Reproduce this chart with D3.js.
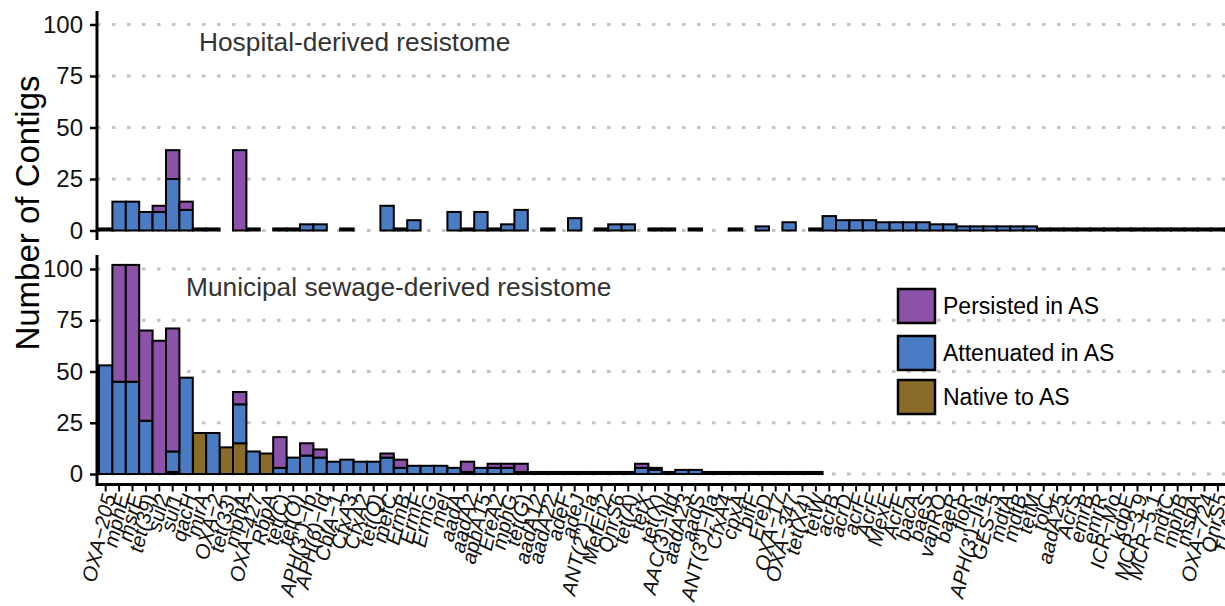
<!DOCTYPE html>
<html><head><meta charset="utf-8">
<script src="https://cdn.jsdelivr.net/npm/d3@7"></script>
<style>body{margin:0;background:#fff} svg{display:block}</style>
</head><body>
<svg id="c" width="1225" height="606"></svg>
<script>
const categories = [
"OXA−205","mphE","msrE","tet(39)","sul2","sul1","qacH","mirA","OXA−2","tet(33)",
"mphA","OXA−427","RbpA","tet(C)","tet(O)","APH(3'')−Ib","APH(6)−Id","CblA−1","CfxA3","CfxA2",
"tet(Q)","mefC","ErmB","ErmF","ErmG","mel","aadA","aadA2","aphA15","EreA2",
"mphG","tet(G)","aadA12","aadA22","adeF","adeJ","ANT(2'')−Ia","MefEn2","QnrS6","tet(A)",
"tetX","tet(X)","AAC(3)−IId","aadA23","aadS","ANT(3'')−IIa","CfxA4","cpxA","bifF","EreD",
"OXA−17","OXA−347","tet(X4)","tetW","acrB","acrD","acrF","AcrF","MexE","AcrE",
"bacA","baeS","vanRO","baeR","floR","APH(3')−IIa","GES−5","mdtA","mdtB","tetM",
"tolC","aadA25","AcrS","emrB","emrR","ICR−Mo","kdpE","MCR−3.9","MCR−5.1","mdtC",
"mphB","msbA","OXA−724","QnrS5","TLA−1"];

const hospitalNative = new Array(85).fill(0);
const hospitalAttenuated = [
1,14,14,9,9,25,10,1,1,0,
0,1,0,1,1,3,3,0,1,0,
0,12,1,5,0,0,9,1,9,1,
3,10,0,1,0,6,0,1,3,3,
0,1,1,0,1,0,0,1,0,2,
0,4,0,1,7,5,5,5,4,4,
4,4,3,3,2,2,2,2,2,2,
1,1,1,1,1,1,1,1,1,1,
1,1,1,1,1];
const hospitalPersisted = [
0,0,0,0,3,14,4,0,0,0,
39,0,0,0,0,0,0,0,0,0,
0,0,0,0,0,0,0,0,0,0,
0,0,0,0,0,0,0,0,0,0,
0,0,0,0,0,0,0,0,0,0,
0,0,0,0,0,0,0,0,0,0,
0,0,0,0,0,0,0,0,0,0,
0,0,0,0,0,0,0,0,0,0,
0,0,0,0,0];

const municipalNative = [
0,0,0,0,0,1,0,20,0,13,
15,0,10,0,0,0,0,0,0,0,
0,0,0,0,0,0,0,0,0,0,
0,0,0,0,0,0,0,0,0,0,
0,0,0,0,0,0,0,0,0,0,
0,0,0,0,0,0,0,0,0,0,
0,0,0,0,0,0,0,0,0,0,
0,0,0,0,0,0,0,0,0,0,
0,0,0,0,0];
const municipalAttenuated = [
53,45,45,26,0,10,47,0,20,0,
19,11,0,3,8,9,8,6,7,6,
6,8,3,4,4,4,3,1,3,3,
3,1,1,1,1,1,1,1,1,1,
3,2,1,2,2,1,1,1,1,1,
1,1,1,1,0,0,0,0,0,0,
0,0,0,0,0,0,0,0,0,0,
0,0,0,0,0,0,0,0,0,0,
0,0,0,0,0];
const municipalPersisted = [
0,57,57,44,65,60,0,0,0,0,
6,0,0,15,0,6,4,0,0,0,
0,2,4,0,0,0,0,5,0,2,
2,4,0,0,0,0,0,0,0,0,
2,1,0,0,0,0,0,0,0,0,
0,0,0,0,0,0,0,0,0,0,
0,0,0,0,0,0,0,0,0,0,
0,0,0,0,0,0,0,0,0,0,
0,0,0,0,0];

const yTicks = [0,25,50,75,100];
const seriesNames = ["Native to AS","Attenuated in AS","Persisted in AS"];
const legendOrder = ["Persisted in AS","Attenuated in AS","Native to AS"];
const colors = {"Native to AS":"#8a6b2a","Attenuated in AS":"#4a7cc4","Persisted in AS":"#8b52a8"};

const FONT = "Liberation Sans, Arial, sans-serif";
const svg = d3.select("#c");
const x = d3.scaleBand().domain(categories).range([99, 99 + 13.4*85]).padding(0);

const panels = [
  {label:"Hospital-derived resistome", series:[hospitalNative,hospitalAttenuated,hospitalPersisted],
   y:d3.scaleLinear().domain([0,100]).range([230.5,24.5]), top:11, bottom:240, lx:199, ly:51},
  {label:"Municipal sewage-derived resistome", series:[municipalNative,municipalAttenuated,municipalPersisted],
   y:d3.scaleLinear().domain([0,100]).range([474,269]), top:255, bottom:486, lx:186, ly:296}
];

panels.forEach(p => {
  const g = svg.append("g");
  g.selectAll("line.grid").data(yTicks).join("line")
    .attr("x1",97).attr("x2",1225)
    .attr("y1",d=>p.y(d)).attr("y2",d=>p.y(d))
    .attr("stroke","#c3c3c3").attr("stroke-width",3)
    .attr("stroke-dasharray","3.5 11.5");
  g.append("text").attr("x",p.lx).attr("y",p.ly).text(p.label)
    .attr("font-family",FONT).attr("font-size",26.3).attr("fill","#333");
  const rows = categories.map((c,i)=>{const o={cat:c}; seriesNames.forEach((s,k)=>o[s]=p.series[k][i]); return o;});
  const stack = d3.stack().keys(seriesNames)(rows);
  stack.forEach(layer=>{
    g.append("g").selectAll("rect").data(layer.filter(d=>d[1]-d[0]>0)).join("rect")
      .attr("x",d=>x(d.data.cat)).attr("width",x.bandwidth())
      .attr("y",d=>p.y(d[1])).attr("height",d=>p.y(d[0])-p.y(d[1]))
      .attr("fill",colors[layer.key]).attr("stroke","#000").attr("stroke-width",2);
  });
  const ax = g.append("g").attr("transform","translate(97,0)")
    .call(d3.axisLeft(p.y).tickValues(yTicks).tickSize(7).tickPadding(7));
  ax.select(".domain").remove();
  ax.selectAll(".tick line").attr("stroke","#000").attr("stroke-width",2.5);
  ax.selectAll(".tick text").attr("font-family",FONT).attr("font-size",24).attr("fill","#111");
  g.append("line").attr("x1",97).attr("x2",97).attr("y1",p.top).attr("y2",p.bottom)
    .attr("stroke","#000").attr("stroke-width",3);
});

const xa = svg.append("g").attr("transform","translate(0,484.5)")
  .call(d3.axisBottom(x).tickSize(7));
xa.select(".domain").remove();
xa.selectAll(".tick line").attr("stroke","#000").attr("stroke-width",2);
xa.selectAll(".tick text")
  .attr("x",0).attr("y",0).attr("dy","0.35em")
  .attr("text-anchor","end")
  .attr("transform","translate(3,10) rotate(-77)")
  .attr("font-family",FONT).attr("font-style","italic")
  .attr("font-size",20.5).attr("fill","#111");
svg.append("line").attr("x1",96).attr("x2",1225).attr("y1",484.5).attr("y2",484.5)
  .attr("stroke","#000").attr("stroke-width",3);

svg.append("text").attr("transform","translate(39,213) rotate(-90)")
  .attr("text-anchor","middle").text("Number of Contigs")
  .attr("font-family",FONT).attr("font-size",33).attr("fill","#000");

const lg = svg.append("g");
const ly = [306,353,397];
legendOrder.forEach((s,i)=>{
  lg.append("rect").attr("x",898).attr("y",ly[i]-17).attr("width",37).attr("height",34)
    .attr("fill",colors[s]).attr("stroke","#000").attr("stroke-width",2.5);
  lg.append("text").attr("x",943).attr("y",ly[i]).attr("dy","0.35em").text(s)
    .attr("font-family",FONT).attr("font-size",23).attr("fill","#000");
});
</script>
</body></html>
